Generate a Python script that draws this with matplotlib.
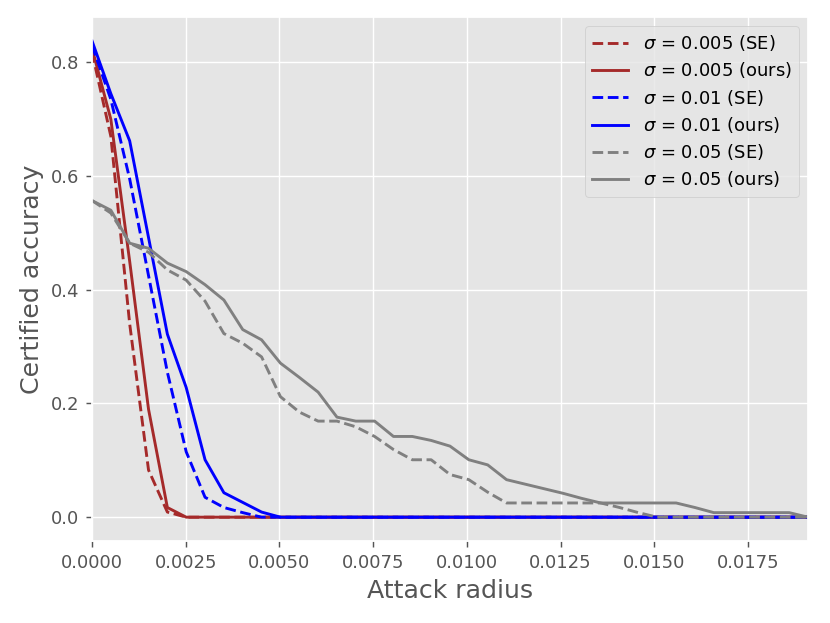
import numpy as np
import matplotlib
matplotlib.use("Agg")
import matplotlib.pyplot as plt

plt.style.use("ggplot")

# attack radius sample grid
radius = np.linspace(0, 0.0191, 39)

# sigma = 0.005
red_se = [0.818, 0.670, 0.340, 0.083, 0.009] + [0.0] * 34
red_ours = [0.825, 0.700, 0.450, 0.190, 0.017] + [0.0] * 34
# sigma = 0.01
blue_se = [0.830, 0.735, 0.595, 0.425, 0.255, 0.115, 0.035, 0.017, 0.008] + [0.0] * 30
blue_ours = [0.838, 0.745, 0.662, 0.492, 0.322, 0.228, 0.101, 0.043, 0.026, 0.009] + [0.0] * 29
# sigma = 0.05
gray_se = [0.557, 0.535, 0.482, 0.466, 0.435, 0.417, 0.380, 0.323, 0.306, 0.282,
           0.212, 0.185, 0.169, 0.169, 0.159, 0.142, 0.119, 0.101, 0.101, 0.075,
           0.066, 0.044, 0.025, 0.025, 0.025, 0.025, 0.025, 0.025, 0.017, 0.008,
           0.0, 0.0, 0.0, 0.0, 0.0, 0.0, 0.0, 0.0, 0.0]
gray_ours = [0.557, 0.540, 0.482, 0.473, 0.447, 0.432, 0.409, 0.382, 0.330, 0.312,
             0.271, 0.246, 0.220, 0.176, 0.169, 0.169, 0.142, 0.142, 0.135, 0.125,
             0.101, 0.092, 0.066, 0.058, 0.050, 0.042, 0.033, 0.025, 0.025, 0.025,
             0.025, 0.025, 0.017, 0.008, 0.008, 0.008, 0.008, 0.008, 0.0]

series = [
    (red_se, "brown", "--", r"$\sigma$ = 0.005 (SE)"),
    (red_ours, "brown", "-", r"$\sigma$ = 0.005 (ours)"),
    (blue_se, "blue", "--", r"$\sigma$ = 0.01 (SE)"),
    (blue_ours, "blue", "-", r"$\sigma$ = 0.01 (ours)"),
    (gray_se, "gray", "--", r"$\sigma$ = 0.05 (SE)"),
    (gray_ours, "gray", "-", r"$\sigma$ = 0.05 (ours)"),
]

fig = plt.figure(figsize=(830 / 130, 623 / 130), dpi=130)
ax = fig.add_axes([92 / 830, 82 / 623, (808 - 92) / 830, (541 - 17) / 623])

for vals, color, ls, label in series:
    ax.plot(radius, vals, color=color, linestyle=ls, label=label, linewidth=1.6)

ax.set_xlim(radius[0], radius[-1])
ax.set_xticks([0.0, 0.0025, 0.005, 0.0075, 0.01, 0.0125, 0.015, 0.0175])
ax.set_xticklabels(["0.0000", "0.0025", "0.0050", "0.0075", "0.0100",
                    "0.0125", "0.0150", "0.0175"])
ax.set_yticks([0.0, 0.2, 0.4, 0.6, 0.8])
ax.set_xlabel("Attack radius", fontsize=14)
ax.set_ylabel("Certified accuracy", fontsize=14)
ax.legend(loc="upper right", labelspacing=0.4)

fig.savefig("out.png", dpi=130)
